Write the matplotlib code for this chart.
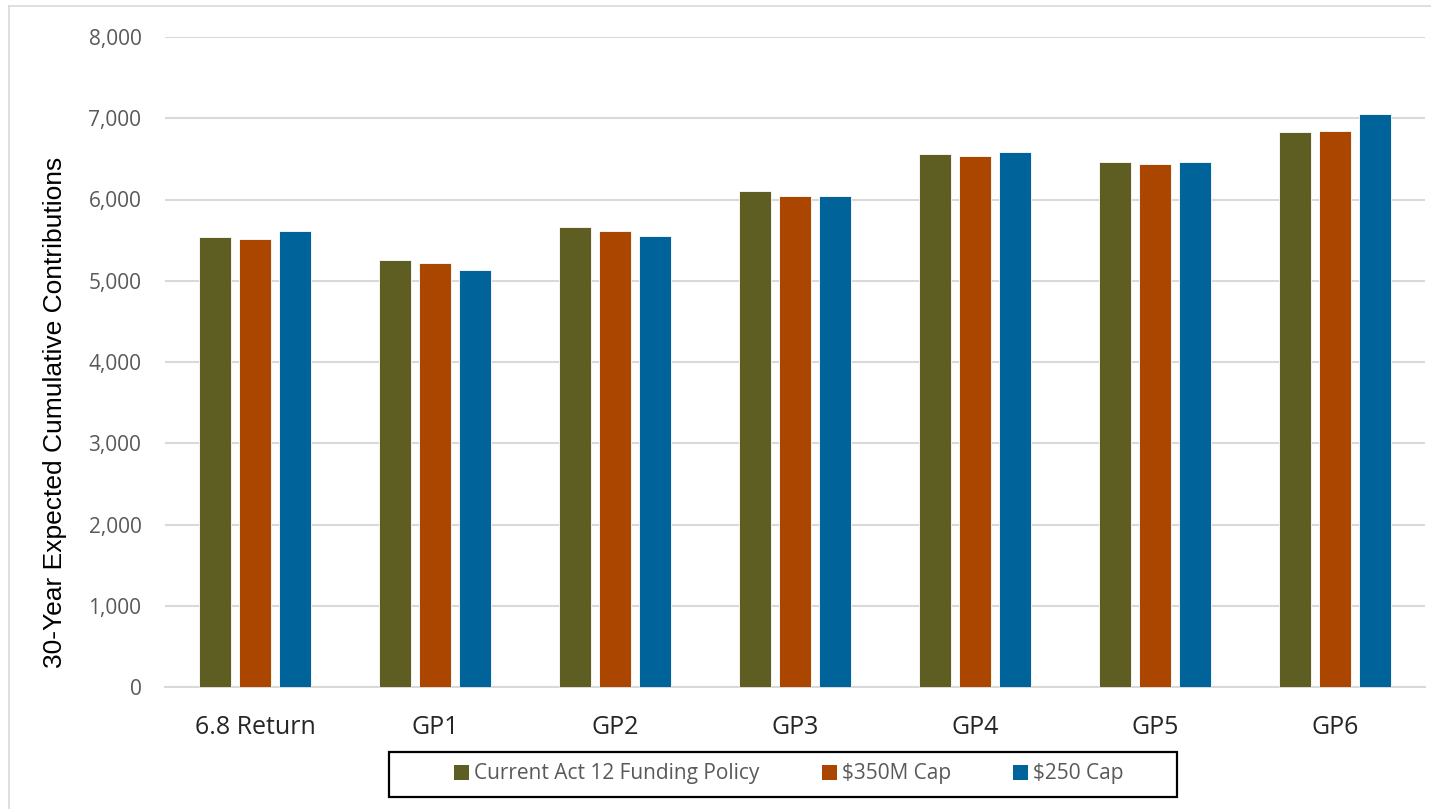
import matplotlib
matplotlib.use("Agg")
import matplotlib.pyplot as plt
from matplotlib.patches import Patch, Rectangle
from matplotlib.lines import Line2D
import numpy as np

categories = ["6.8 Return", "GP1", "GP2", "GP3", "GP4", "GP5", "GP6"]
series_names = ["Current Act 12 Funding Policy", "$350M Cap", "$250 Cap"]
current_act12 = [5535, 5260, 5665, 6100, 6560, 6458, 6831]
cap_350m = [5510, 5214, 5612, 6047, 6539, 6433, 6847]
cap_250 = [5616, 5132, 5547, 6039, 6588, 6458, 7052]
yticks = [0, 1000, 2000, 3000, 4000, 5000, 6000, 7000, 8000]

colors = ["#5E5E22", "#AA4600", "#00649B"]
series = [current_act12, cap_350m, cap_250]

W, H = 1431, 809
fig = plt.figure(figsize=(W / 100, H / 100), dpi=100)
ax = fig.add_axes([165 / W, 1 - 687 / H, 1260 / W, 650 / H])

x = np.arange(len(categories))
width = 0.175
pitch = 0.222
for i, (vals, col, name) in enumerate(zip(series, colors, series_names)):
    ax.bar(x + (i - 1) * pitch, vals, width, color=col, edgecolor="#FFFFFF",
           linewidth=0.6, label=name, zorder=3)

ax.set_xlim(-0.5, len(categories) - 0.5)
ax.set_ylim(0, 8000)
ax.set_yticks(yticks)
ax.set_yticklabels([f"{v:,}" for v in yticks], fontsize=15, color="#595959",
                   family="Open Sans")
ax.set_xticks(x)
ax.set_xticklabels(categories, fontsize=18, color="#262626", family="Open Sans")
ax.tick_params(axis="both", length=0)
ax.tick_params(axis="y", pad=17)
ax.tick_params(axis="x", pad=20)
ax.grid(axis="y", color="#D9D9D9", linewidth=1.5, zorder=0)
for s in ["top", "right", "left"]:
    ax.spines[s].set_visible(False)
ax.spines["bottom"].set_color("#D9D9D9")
ax.spines["bottom"].set_linewidth(1.5)

fig.text(55 / W, 1 - 412 / H, "30-Year Expected Cumulative Contributions",
         rotation=90, ha="center", va="center", fontsize=19, color="#000000",
         family="Liberation Sans")

# Legend entries without frame, with a separate black box around them
handles = [Patch(facecolor=c, edgecolor="none") for c in colors]
leg = fig.legend(handles, series_names, loc="center",
                 bbox_to_anchor=(789 / W, 1 - 774 / H),
                 ncol=3, frameon=False,
                 handlelength=0.7, handleheight=0.7, handletextpad=0.25,
                 columnspacing=3.0, borderpad=0.0,
                 prop={"family": "Open Sans", "size": 15})
for t in leg.get_texts():
    t.set_color("#595959")
fig.patches.append(Rectangle((389 / W, 1 - 797 / H), (1177 - 389) / W, 45 / H,
                             transform=fig.transFigure, fill=False,
                             edgecolor="#000000", linewidth=1.6))

# Light outer border on the top and left edges
fig.lines.append(Line2D([9 / W, 9 / W], [0, 1 - 6 / H], transform=fig.transFigure,
                        color="#D9D9D9", linewidth=1.2))
fig.lines.append(Line2D([9 / W, 1], [1 - 6 / H, 1 - 6 / H], transform=fig.transFigure,
                        color="#D9D9D9", linewidth=1.2))

fig.savefig("out.png", dpi=100)
